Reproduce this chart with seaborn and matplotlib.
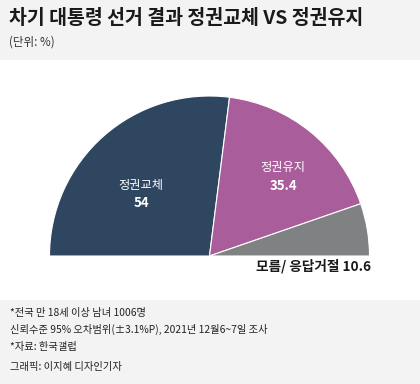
import matplotlib
matplotlib.use("Agg")
import matplotlib.pyplot as plt
import seaborn as sns
from matplotlib.patches import Rectangle

sns.set_theme(style="white")
plt.rcParams['font.family'] = ['Noto Sans CJK KR', 'DejaVu Sans']

# Data
categories = ["정권교체", "정권유지", "모름/ 응답거절"]
values = [54, 35.4, 10.6]
colors = ["#2e4660", "#a95e9b", "#808183"]

title = "차기 대통령 선거 결과 정권교체 VS 정권유지"
unit = "(단위: %)"
notes = [
    "*전국 만 18세 이상 남녀 1006명",
    "신뢰수준 95% 오차범위(±3.1%P), 2021년 12월6~7일 조사",
    "*자료: 한국갤럽",
    "그래픽: 이지혜 디자인기자",
]

W, H = 420, 384
fig = plt.figure(figsize=(W / 100, H / 100), dpi=100)
fig.patch.set_facecolor("white")

def px(x, y):
    return x / W, 1 - y / H

# backgrounds
fig.patches.append(Rectangle((0, 1 - 60 / H), 1, 60 / H, transform=fig.transFigure,
                             facecolor="#f3f3f3", edgecolor="none", zorder=0))
fig.patches.append(Rectangle((0, 0), 1, 84 / H, transform=fig.transFigure,
                             facecolor="#f3f3f3", edgecolor="none", zorder=0))

# pie (semicircle)
cx, cy, r = 209.5, 256, 160
ax = fig.add_axes([(cx - r) / W, (H - cy - r) / H, 2 * r / W, 2 * r / H])
total = sum(values)
wedges, _ = ax.pie(values + [total], colors=colors + ["none"], startangle=180,
                   counterclock=False, radius=1,
                   wedgeprops=dict(edgecolor="white", linewidth=0.8))
wedges[-1].set_visible(False)
ax.set_xlim(-1, 1)
ax.set_ylim(-1, 1)
ax.set_aspect("auto")
ax.axis("off")
ax.patch.set_alpha(0)

# titles
fig.text(*px(9, 18), title, fontsize=14, fontweight="bold", color="#1a1a1a", va="center", ha="left")
fig.text(*px(9, 42), unit, fontsize=8.3, color="#333333", va="center", ha="left")

# labels in pie
fig.text(*px(141, 186), categories[0], fontsize=8.8, color="white", ha="center", va="center")
fig.text(*px(141, 203), f"{values[0]:g}", fontsize=9.5, fontweight="bold", color="white", ha="center", va="center")
fig.text(*px(283, 168), categories[1], fontsize=8.8, color="white", ha="center", va="center")
fig.text(*px(283, 186), f"{values[1]:g}", fontsize=9.5, fontweight="bold", color="white", ha="center", va="center")
fig.text(*px(371, 266), f"{categories[2]} {values[2]:g}", fontsize=9.8, fontweight="bold",
         color="#1a1a1a", ha="right", va="center")

# notes
for y, t in zip([313, 329, 347, 367], notes):
    fig.text(*px(10, y), t, fontsize=7.4, color="#222222", ha="left", va="center")

fig.savefig("out.png", dpi=100, facecolor=fig.get_facecolor())
